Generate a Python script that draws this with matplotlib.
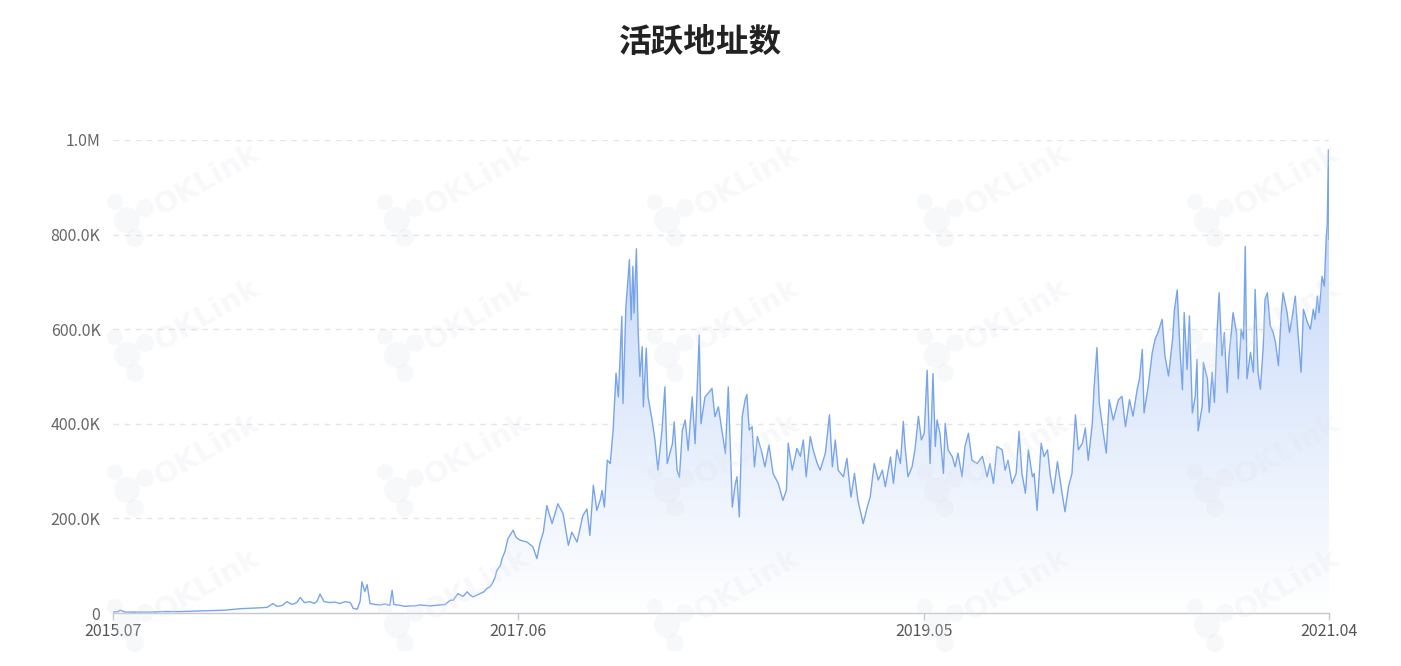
import numpy as np
import pandas as pd
import matplotlib
matplotlib.use("Agg")
import matplotlib.pyplot as plt
import matplotlib.dates as mdates
from matplotlib.colors import LinearSegmentedColormap
from matplotlib.patches import Circle

plt.rcParams['font.family'] = ['Noto Sans CJK SC', 'DejaVu Sans']

title = '活跃地址数'
start_date = '2015-07-30'

# days since start_date
day_offsets = [
    0, 9, 12, 21, 38, 64, 89, 115, 141, 167,
    193, 218, 236, 253, 265, 275, 282, 291, 299, 308,
    316, 322, 329, 339, 346, 351, 356, 363, 373, 382,
    390, 399, 408, 413, 420, 425, 428, 433, 437, 442,
    451, 459, 468, 476, 480, 483, 494, 502, 511, 519,
    528, 537, 545, 554, 562, 571, 580, 585, 593, 602,
    609, 614, 619, 626, 631, 638, 643, 648, 652, 657,
    660, 666, 669, 674, 679, 683, 688, 693, 700, 712,
    722, 729, 734, 740, 746, 755, 765, 774, 783, 789,
    798, 808, 815, 820, 826, 832, 838, 841, 845, 850,
    855, 860, 865, 869, 875, 877, 882, 888, 891, 894,
    896, 900, 903, 906, 910, 912, 917, 920, 927, 932,
    937, 944, 949, 953, 962, 965, 970, 974, 979, 984,
    989, 996, 1001, 1008, 1011, 1018, 1023, 1030, 1035, 1041,
    1047, 1053, 1058, 1065, 1070, 1073, 1077, 1082, 1087, 1090,
    1094, 1099, 1103, 1108, 1116, 1121, 1128, 1135, 1144, 1152,
    1158, 1161, 1168, 1176, 1182, 1187, 1192, 1199, 1204, 1211,
    1216, 1225, 1232, 1237, 1242, 1247, 1256, 1262, 1269, 1275,
    1281, 1290, 1297, 1302, 1309, 1316, 1323, 1328, 1333, 1337,
    1342, 1348, 1354, 1359, 1362, 1367, 1374, 1379, 1385, 1390,
    1395, 1400, 1405, 1410, 1414, 1417, 1422, 1428, 1431, 1436,
    1443, 1448, 1453, 1460, 1465, 1471, 1477, 1486, 1495, 1503,
    1508, 1514, 1520, 1529, 1534, 1539, 1546, 1553, 1558, 1563,
    1569, 1574, 1581, 1584, 1589, 1596, 1601, 1607, 1612, 1617,
    1624, 1632, 1637, 1643, 1649, 1655, 1660, 1667, 1672, 1677,
    1684, 1687, 1692, 1696, 1703, 1708, 1713, 1720, 1729, 1735,
    1741, 1748, 1754, 1761, 1765, 1770, 1773, 1780, 1787, 1792,
    1797, 1804, 1809, 1815, 1822, 1825, 1830, 1835, 1839, 1842,
    1847, 1851, 1856, 1861, 1864, 1866, 1873, 1875, 1882, 1885,
    1890, 1894, 1899, 1902, 1907, 1911, 1916, 1919, 1923, 1926,
    1932, 1935, 1940, 1944, 1947, 1950, 1956, 1961, 1964, 1969,
    1973, 1978, 1981, 1985, 1990, 1995, 1999, 2004, 2009, 2012,
    2019, 2023, 2028, 2033, 2038, 2043, 2047, 2054, 2059, 2064,
    2067, 2071, 2074, 2079, 2083, 2086, 2088, 2090, 2091,
]

# active addresses, thousands
active_k = [
    2, 3, 6, 2, 2, 2, 3, 3, 4, 5,
    6, 9, 10, 11, 12, 20, 14, 16, 24, 18,
    22, 33, 22, 24, 20, 25, 40, 24, 22, 23,
    20, 24, 22, 10, 8, 25, 66, 45, 60, 20,
    18, 17, 19, 16, 48, 18, 16, 14, 15, 15,
    17, 16, 15, 16, 17, 18, 27, 27, 41, 35,
    45, 38, 34, 38, 41, 45, 52, 55, 62, 75,
    90, 100, 115, 130, 157, 165, 175, 160, 154, 150,
    140, 115, 147, 171, 227, 189, 231, 210, 143, 171,
    150, 206, 220, 164, 270, 217, 240, 259, 224, 323,
    316, 386, 507, 457, 627, 443, 648, 747, 620, 733,
    634, 770, 598, 500, 563, 436, 560, 457, 408, 365,
    302, 386, 478, 316, 358, 404, 302, 287, 386, 408,
    344, 457, 358, 588, 400, 457, 464, 475, 415, 436,
    386, 337, 478, 224, 273, 288, 203, 416, 451, 462,
    387, 394, 309, 373, 338, 309, 355, 295, 274, 238,
    260, 359, 302, 348, 331, 366, 288, 373, 345, 316,
    302, 338, 419, 309, 366, 302, 288, 327, 245, 295,
    238, 189, 224, 245, 316, 281, 302, 267, 302, 330,
    274, 345, 316, 405, 352, 288, 309, 345, 416, 366,
    380, 513, 316, 506, 352, 408, 380, 295, 401, 345,
    331, 309, 338, 288, 352, 380, 323, 316, 331, 288,
    316, 274, 352, 345, 302, 323, 274, 295, 384, 295,
    253, 345, 288, 295, 217, 359, 331, 345, 288, 253,
    320, 253, 214, 267, 295, 419, 345, 359, 391, 323,
    401, 476, 561, 444, 380, 338, 451, 408, 451, 458,
    394, 451, 416, 472, 494, 557, 423, 479, 550, 579,
    593, 621, 543, 501, 579, 639, 683, 550, 472, 635,
    515, 628, 423, 458, 536, 385, 438, 530, 495, 424,
    509, 445, 607, 677, 544, 593, 466, 544, 593, 635,
    593, 495, 600, 579, 775, 495, 551, 509, 684, 509,
    473, 565, 663, 677, 607, 593, 572, 523, 635, 677,
    635, 593, 628, 670, 586, 509, 642, 614, 600, 642,
    621, 670, 635, 712, 691, 789, 824, 979, 790,
]

x_tick_labels = ['2015.07', '2017.06', '2019.05', '2021.04']
x_tick_offsets = [0, 697, 1394, 2091]
y_ticks = [0, 200000, 400000, 600000, 800000, 1000000]
y_tick_labels = ['0', '200.0K', '400.0K', '600.0K', '800.0K', '1.0M']

start = pd.Timestamp(start_date)
dates = start + pd.to_timedelta(day_offsets, unit='D')
values = np.array(active_k, dtype=float) * 1000
xnum = mdates.date2num(dates.to_pydatetime())
tick_nums = mdates.date2num((start + pd.to_timedelta(x_tick_offsets, unit='D')).to_pydatetime())

W, H = 1401, 666
fig = plt.figure(figsize=(W / 100, H / 100), dpi=100)
ax = fig.add_axes([113 / W, 53 / H, (1329 - 113) / W, (613 - 140) / H])

x0, x1 = tick_nums[0], tick_nums[-1]

# gradient fill under line
poly = ax.fill_between(xnum, values, 0, color='none', lw=0)
cmap = LinearSegmentedColormap.from_list('g', ['#ffffff', '#dde8fc', '#b2cbf6'])
grad = np.linspace(0, 1, 256).reshape(-1, 1)
im = ax.imshow(grad, extent=[x0, x1, 0, 1000000], origin='lower', aspect='auto',
               cmap=cmap, zorder=1, interpolation='bicubic')
path = poly.get_paths()[0]
im.set_clip_path(path, transform=ax.transData)

ax.plot(xnum, values, color='#78a5ea', lw=1.0, zorder=3)

ax.set_xlim(x0, x1)
ax.set_ylim(0, 1000000)

ax.set_yticks(y_ticks)
ax.set_yticklabels(y_tick_labels)
ax.set_xticks(tick_nums)
ax.set_xticklabels(x_tick_labels)

for s in ['top', 'right', 'left']:
    ax.spines[s].set_visible(False)
ax.spines['bottom'].set_color('#c5c8ce')
ax.spines['bottom'].set_linewidth(1)
ax.tick_params(axis='y', length=0, pad=9, labelsize=11.5, labelcolor='#666666')
ax.tick_params(axis='x', length=5, width=1, color='#c5c8ce', pad=2,
               labelsize=11.5, labelcolor='#555555')
ax.yaxis.grid(True, linestyle=(0, (4, 4)), color='#e3e5e8', lw=1)
ax.set_axisbelow(True)
ax.set_facecolor('none')

fig.text(0.5, 1 - 42 / H, title, ha='center', va='center', fontsize=23.5,
         fontweight='bold', color='#222222')

# watermarks (very faint)
wm_color = '#dfe3ea'
wm_alpha = 0.22
for i in range(5):
    for j in range(4):
        cx = 207 + 270 * i
        cy = 180 + 135 * j
        fig.text(cx / W, 1 - cy / H, 'OKLink', rotation=30, ha='center', va='center',
                 fontsize=21, fontweight='bold', color=wm_color, alpha=wm_alpha,
                 family=['DejaVu Sans'], zorder=10)
        for dx, dy, r in [(-80, 40, 13), (-62, 28, 9), (-72, 58, 9), (-92, 22, 8)]:
            c = Circle(((cx + dx) / 100, (H - (cy + dy)) / 100), r / 100,
                       transform=fig.dpi_scale_trans, color=wm_color, alpha=wm_alpha,
                       lw=0, zorder=10)
            fig.patches.append(c)

fig.savefig('out.png', dpi=100)
